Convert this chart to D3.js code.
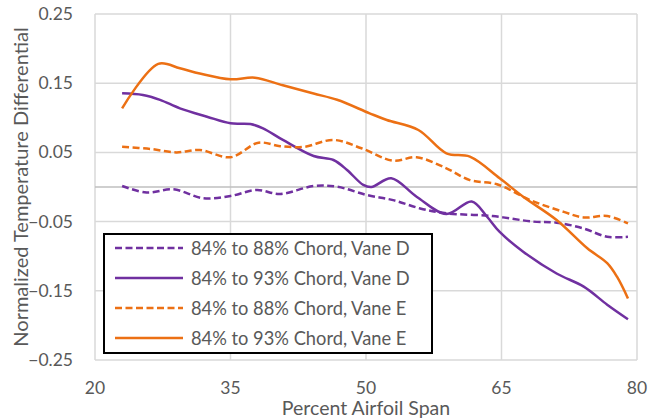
<!DOCTYPE html>
<html><head><meta charset="utf-8">
<script src="https://cdn.jsdelivr.net/npm/d3@7"></script>
<style>body{margin:0;background:#fff}svg{display:block}text{font-family:Lato,"Liberation Sans",sans-serif;fill:#595959}</style>
</head><body><svg id="c" width="648" height="419"></svg>
<script>
const xTicks=[20,35,50,65,80];
const yTicks=[-0.25,-0.15,-0.05,0.05,0.15,0.25];
const seriesNames=["84% to 88% Chord, Vane D","84% to 93% Chord, Vane D","84% to 88% Chord, Vane E","84% to 93% Chord, Vane E"];
const vaneD88=[[23,0.0015],[25.7,-0.008],[28.7,-0.0034],[32,-0.0163],[35,-0.013],[37.9,-0.0043],[40.5,-0.0101],[44.2,0.0014],[46.8,0.0004],[50.1,-0.0116],[53,-0.019],[56,-0.031],[58.9,-0.038],[64,-0.042],[68.5,-0.050],[71.1,-0.0515],[74.1,-0.06],[76.7,-0.072],[79,-0.072]];
const vaneD93=[[23,0.1354],[25.3,0.133],[27.2,0.126],[29.4,0.1137],[32.4,0.1016],[35,0.092],[37.2,0.091],[38.6,0.0848],[40.8,0.068],[44.2,0.0448],[46.4,0.039],[47.9,0.0246],[49.7,0.003],[50.6,0.0],[52.8,0.0126],[55.6,-0.014],[58.9,-0.039],[61.7,-0.021],[63.4,-0.043],[64.8,-0.065],[67.4,-0.0935],[71.1,-0.125],[74.1,-0.144],[76.7,-0.170],[79,-0.191]];
const vaneE88=[[23,0.058],[26.1,0.055],[29,0.050],[31.6,0.0535],[35,0.043],[38.1,0.064],[40.5,0.059],[43.1,0.058],[46.4,0.068],[49.5,0.056],[53,0.038],[55.6,0.043],[58.9,0.027],[61.5,0.010],[64.5,0.004],[68.2,-0.019],[71.9,-0.036],[74.1,-0.044],[76.7,-0.042],[79,-0.0525]];
const vaneE93=[[23,0.1137],[27,0.178],[29.4,0.1715],[31.6,0.164],[35,0.1556],[37.7,0.158],[40.8,0.147],[44.2,0.135],[46.8,0.126],[50.4,0.1065],[52.3,0.0968],[55.8,0.0824],[58.9,0.0487],[61.5,0.0438],[64.8,0.0126],[67.4,-0.014],[71.1,-0.0477],[74.5,-0.0886],[76.7,-0.110],[77.8,-0.13],[79,-0.161]];
const colors=["#7030A0","#7030A0","#EC7014","#EC7014"];
const dashed=[true,false,true,false];
const data=[vaneD88,vaneD93,vaneE88,vaneE93];

const svg=d3.select("#c");
const L=95,R=637,T=14,B=360;
const x=d3.scaleLinear().domain([20,80]).range([L,R]);
const y=d3.scaleLinear().domain([-0.25,0.25]).range([B,T]);

svg.append("g").selectAll("line").data(yTicks).join("line")
 .attr("x1",L).attr("x2",R).attr("y1",d=>y(d)).attr("y2",d=>y(d))
 .attr("stroke","#d9d9d9").attr("stroke-width",1.5);
svg.append("g").selectAll("line").data(xTicks).join("line")
 .attr("y1",T).attr("y2",B).attr("x1",d=>x(d)).attr("x2",d=>x(d))
 .attr("stroke","#d9d9d9").attr("stroke-width",1.5);
svg.append("line").attr("x1",L).attr("x2",R).attr("y1",y(0)).attr("y2",y(0)).attr("stroke","#bfbfbf").attr("stroke-width",1.5);

svg.append("g").selectAll("text").data(yTicks).join("text")
 .attr("x",73).attr("y",d=>y(d)+6).attr("text-anchor","end").attr("font-size",17.5)
 .text(d=>d3.format(".2f")(d));
svg.append("g").selectAll("text").data(xTicks).join("text")
 .attr("x",d=>x(d)).attr("y",394).attr("text-anchor","middle").attr("font-size",17.5)
 .text(d=>d);
svg.append("text").attr("x",(L+R)/2).attr("y",415).attr("text-anchor","middle").attr("font-size",19.5).text("Percent Airfoil Span");
svg.append("text").attr("transform",`translate(28,${(T+B)/2}) rotate(-90)`).attr("text-anchor","middle").attr("font-size",20).text("Normalized Temperature Differential");

const line=d3.line().x(d=>x(d[0])).y(d=>y(d[1])).curve(d3.curveCatmullRom.alpha(0.5));
data.forEach((s,i)=>{
 svg.append("path").attr("d",line(s)).attr("fill","none").attr("stroke",colors[i]).attr("stroke-width",2.5)
  .attr("stroke-dasharray",dashed[i]?"7,3.5":null).attr("stroke-linejoin","round");
});

const lg=svg.append("g");
lg.append("rect").attr("x",104).attr("y",234).attr("width",328).attr("height",119).attr("fill","#fff").attr("stroke","#000").attr("stroke-width",2);
seriesNames.forEach((n,i)=>{
 const yy=248+i*30;
 lg.append("line").attr("x1",115).attr("x2",183).attr("y1",yy).attr("y2",yy).attr("stroke",colors[i]).attr("stroke-width",2.5).attr("stroke-dasharray",dashed[i]?"7,3.5":null);
 lg.append("text").attr("x",191).attr("y",yy+6.5).attr("font-size",18.3).text(n);
});
</script></body></html>
